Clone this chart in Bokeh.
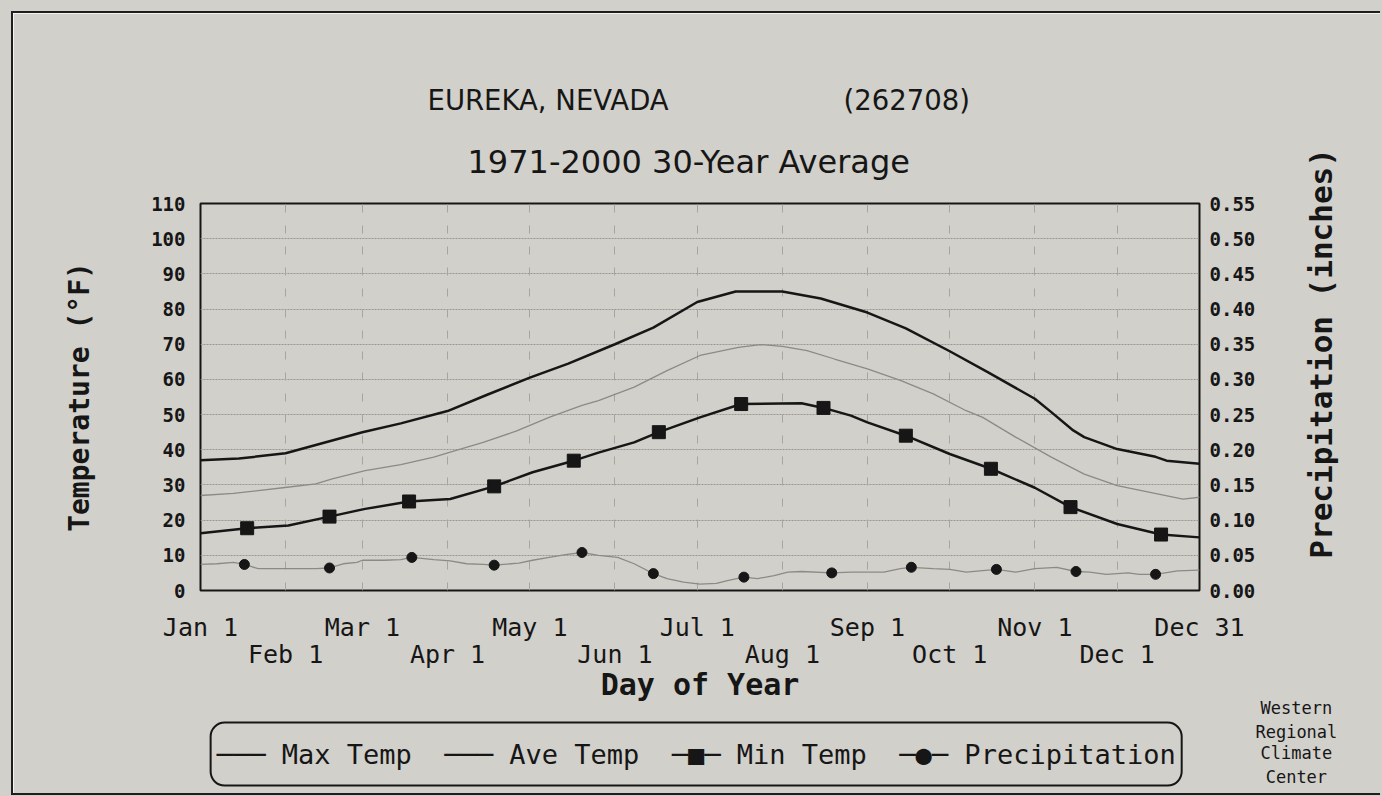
import math
from bokeh.plotting import figure
from bokeh.models import (Range1d, LinearAxis, FixedTicker, Grid, Label,
                          PrintfTickFormatter, Title)
from bokeh.embed import file_html
from bokeh.resources import INLINE

# ---------------- data ----------------
max_days = [1, 15, 32, 46, 60, 74, 91, 105, 121, 135, 152, 166, 182, 196, 213,
            227, 244, 258, 274, 288, 305, 311, 319, 323, 335, 349, 353, 365]
max_temp = [37, 37.5, 39, 42, 45, 47.5, 51, 55.5, 60.5, 64.5, 70, 74.7, 82, 85, 85,
            83, 79, 74.5, 68, 62, 54.5, 50.7, 45.5, 43.6, 40.2, 38, 36.9, 36]

ave_days = [1, 13, 22, 31, 43, 49, 61, 74, 86, 92, 104, 116, 128, 140, 146, 159,
            171, 183, 197, 205, 213, 222, 232, 244, 256, 268, 280, 286, 298, 311,
            323, 335, 347, 359, 365]
ave_temp = [27, 27.6, 28.4, 29.2, 30.3, 31.7, 34.1, 35.8, 37.9, 39.3, 42.1, 45.3,
            49.2, 52.6, 54, 57.8, 62.5, 66.8, 69.1, 69.9, 69.4, 68.2, 65.8, 63,
            59.7, 55.9, 51.1, 49.2, 43.6, 37.9, 33.1, 29.8, 27.9, 26, 26.5]

min_days = [1, 18, 33, 48, 61, 77, 92, 108, 122, 137, 146, 159, 168, 183, 198,
            220, 228, 238, 244, 258, 274, 289, 305, 318, 335, 351, 365]
min_temp = [16.3, 17.7, 18.5, 21, 23.2, 25.3, 26, 29.6, 33.6, 36.9, 39.2, 42.1, 45,
            49.2, 53, 53.2, 51.9, 49.7, 47.8, 44, 38.8, 34.6, 29.2, 23.7, 18.9,
            15.9, 15.1]
min_mark_days = [18, 48, 77, 108, 137, 168, 198, 228, 258, 289, 318, 351]
min_mark_temp = [17.7, 21, 25.3, 29.6, 36.9, 45, 53, 51.9, 44, 34.6, 23.7, 15.9]

pcp_days = [1, 7, 13, 17, 22, 31, 43, 48, 53, 58, 60, 68, 74, 78, 86, 92, 98, 104,
            108, 117, 122, 128, 134, 140, 146, 153, 159, 166, 171, 177, 183, 189,
            193, 199, 204, 210, 215, 220, 231, 238, 244, 250, 256, 260, 268, 274,
            280, 291, 298, 305, 313, 320, 325, 331, 339, 343, 349, 357, 365]
pcp_vals = [.037, .038, .040, .037, .031, .031, .031, .032, .038, .040, .043, .043,
            .044, .047, .044, .042, .038, .037, .036, .039, .043, .047, .051, .054,
            .050, .047, .038, .024, .017, .012, .009, .010, .014, .019, .017, .021,
            .026, .027, .025, .026, .026, .026, .031, .033, .031, .030, .026, .030,
            .026, .031, .033, .027, .026, .023, .025, .023, .023, .028, .029]
pcp_mark_days = [17, 48, 78, 108, 140, 166, 199, 231, 260, 291, 320, 349]
pcp_mark_vals = [.037, .032, .047, .036, .054, .024, .019, .025, .033, .030, .027, .023]

grid_days = [1, 32, 60, 91, 121, 152, 182, 213, 244, 274, 305, 335, 365]
row1_days = [1, 60, 121, 182, 244, 305, 365]
row1_labels = ["Jan 1", "Mar 1", "May 1", "Jul 1", "Sep 1", "Nov 1", "Dec 31"]
row2_days = [32, 91, 152, 213, 274, 335]
row2_labels = ["Feb 1", "Apr 1", "Jun 1", "Aug 1", "Oct 1", "Dec 1"]
temp_ticks = [0, 10, 20, 30, 40, 50, 60, 70, 80, 90, 100, 110]
pcp_ticks = [0.0, 0.05, 0.10, 0.15, 0.20, 0.25, 0.30, 0.35, 0.40, 0.45, 0.50, 0.55]
series_names = ["Max Temp", "Ave Temp", "Min Temp", "Precipitation"]
series_keys = ["\u2500\u2500\u2500", "\u2500\u2500\u2500",
               "\u2500\u25a0\u2500", "\u2500\u25cf\u2500"]
credit_lines = ["Western", "Regional", "Climate", "Center"]

# ---------------- styling ----------------
BG = "#d2d0cb"
INK = "#161616"
GRAY = "#8c8a86"
MONO = "DejaVu Sans Mono"
NB = "\u00a0"
EDGE = "2px solid #1e1e1e"

p = figure(frame_width=999, frame_height=387, output_backend="svg",
           toolbar_location=None, title=None,
           x_axis_type=None, x_range=Range1d(1, 365), y_range=Range1d(0, 110),
           min_border_left=187, min_border_right=181, min_border_top=190,
           min_border_bottom=203,
           background_fill_color=BG, border_fill_color=BG,
           outline_line_color=INK, outline_line_width=2,
           styles={"margin-left": "11px", "margin-top": "11px",
                   "border-left": EDGE, "border-top": EDGE, "border-bottom": EDGE,
                   "box-shadow": "0 0 0 40px " + BG})
p.extra_y_ranges = {"pcp": Range1d(0, 0.55)}

# left axis
ya = p.yaxis[0]
ya.ticker = FixedTicker(ticks=temp_ticks)
ya.major_label_text_font = MONO
ya.major_label_text_font_style = "bold"
ya.major_label_text_font_size = "19px"
ya.major_label_text_color = INK
ya.major_label_standoff = 15
ya.major_tick_out = 0
ya.major_tick_in = 0
ya.minor_tick_out = 0
ya.minor_tick_in = 0
ya.axis_line_color = None
ya.axis_label = "Temperature (°F)"
ya.axis_label_text_font = MONO
ya.axis_label_text_font_style = "bold"
ya.axis_label_text_font_size = "28px"
ya.axis_label_text_color = INK
ya.axis_label_standoff = 52

# right axis
ra = LinearAxis(y_range_name="pcp", ticker=FixedTicker(ticks=pcp_ticks),
                formatter=PrintfTickFormatter(format="%.2f"))
ra.major_label_text_font = MONO
ra.major_label_text_font_style = "bold"
ra.major_label_text_font_size = "19px"
ra.major_label_text_color = INK
ra.major_label_standoff = 10
ra.major_tick_out = 0
ra.major_tick_in = 0
ra.minor_tick_out = 0
ra.minor_tick_in = 0
ra.axis_line_color = None
p.add_layout(ra, "right")

# bottom axes (two staggered rows)
def label_axis(days, labels, standoff, title=None):
    ax = LinearAxis(ticker=FixedTicker(ticks=days),
                    major_label_overrides={d: t for d, t in zip(days, labels)})
    ax.major_label_text_font = MONO
    ax.major_label_text_font_size = "25px"
    ax.major_label_text_color = INK
    ax.major_label_standoff = standoff
    ax.major_tick_out = 0
    ax.major_tick_in = 0
    ax.minor_tick_out = 0
    ax.minor_tick_in = 0
    ax.axis_line_color = None
    if title:
        ax.axis_label = title
        ax.axis_label_text_font = MONO
        ax.axis_label_text_font_style = "bold"
        ax.axis_label_text_font_size = "30px"
        ax.axis_label_text_color = INK
        ax.axis_label_standoff = -5
    return ax

ax1 = label_axis(row1_days, row1_labels, 22)
ax2 = label_axis(row2_days, row2_labels, -5, "Day of Year")
p.add_layout(ax1, "below")
p.add_layout(ax2, "below")

# grids
p.ygrid.ticker = FixedTicker(ticks=temp_ticks)
p.ygrid.grid_line_color = "#9a9792"
p.ygrid.grid_line_dash = "2 1"
p.ygrid.grid_line_width = 1
vg = Grid(dimension=0, ticker=FixedTicker(ticks=grid_days),
          grid_line_color="#a8a5a0", grid_line_dash="8 13", grid_line_width=1)
p.add_layout(vg)

# series
r_max = p.line(max_days, max_temp, line_color=INK, line_width=2.5)
r_ave = p.line(ave_days, ave_temp, line_color=GRAY, line_width=1.3)
r_min = p.line(min_days, min_temp, line_color=INK, line_width=2.5)
r_minm = p.scatter(min_mark_days, min_mark_temp, marker="square", size=13,
                   fill_color=INK, line_color=INK)
r_pcp = p.line(pcp_days, pcp_vals, line_color=GRAY, line_width=1.3, y_range_name="pcp")
r_pcpm = p.scatter(pcp_mark_days, pcp_mark_vals, marker="circle", size=10,
                   fill_color=INK, line_color=INK, y_range_name="pcp")

# titles
p.add_layout(Title(text="1971-2000 30-Year Average", align="left", offset=267,
                   text_font="DejaVu Sans", text_font_size="32px",
                   text_font_style="normal", text_color=INK, standoff=46), "above")
p.add_layout(Title(text="EUREKA, NEVADA" + NB * 20 + "(262708)", align="left",
                   offset=227, text_font="DejaVu Sans", text_font_size="27.5px",
                   text_font_style="normal", text_color=INK, standoff=3), "above")

# side-panel labels (positioned by data coordinates)
def side_label(side, x, y, text, size, style="normal", angle=0.0, **kw):
    lab = Label(x=x, y=y, text=text, text_font=MONO, text_font_size=size,
                text_font_style=style, text_align="center", text_baseline="middle",
                text_color=INK, angle=angle)
    for k, v in kw.items():
        try:
            setattr(lab, k, v)
        except Exception:
            pass
    p.add_layout(lab, side)
    return lab

side_label("right", 409.45, 67.4, "Precipitation (inches)", "31px", "bold",
           angle=math.pi / 2)

credit_y = [-33.5, -40.1, -46.3, -52.9]
credit_side = ["above", "above", "above", "right"]
for yv, t, side in zip(credit_y, credit_lines, credit_side):
    side_label(side, 400.3, yv, t, "17px")

# legend box (key samples and names, rounded frame)
key_text = (NB * 2).join(k + NB + n for k, n in zip(series_keys, series_names))
side_label("below", 181.6, -46.5, key_text, "27px",
           border_line_color=INK, border_line_width=2, border_radius=14,
           padding=(6, 16))

open("out.html", "w").write(file_html(p, INLINE))
